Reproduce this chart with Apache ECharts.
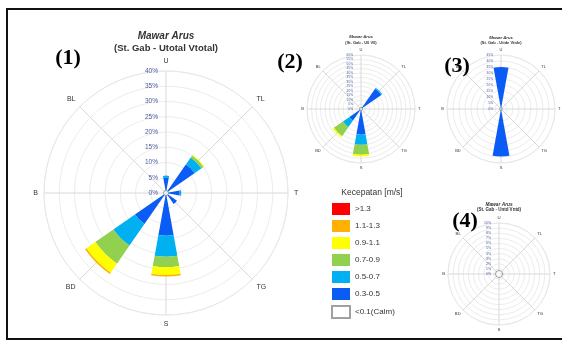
<!DOCTYPE html>
<html>
<head>
<meta charset="utf-8">
<script src="https://cdn.jsdelivr.net/npm/echarts@6/dist/echarts.min.js"></script>
<style>
  html, body { margin: 0; padding: 0; background: #fff; }
  #chart { width: 562px; height: 343px; }
</style>
</head>
<body>
<div id="chart"></div>
<script>
// 16 arah mata angin (kategori batang) dan 8 label arah utama
const directions = ['U', 'UTL', 'TL', 'TTL', 'T', 'TTG', 'TG', 'STG', 'S', 'SBD', 'BD', 'BBD', 'B', 'BBL', 'BL', 'UBL'];
const compassLabels = ['U', 'TL', 'T', 'TG', 'S', 'BD', 'B', 'BL'];
const speedClasses = ['0.3-0.5', '0.5-0.7', '0.7-0.9', '0.9-1.1', '1.1-1.3', '>1.3'];
const calmLabel = '<0.1(Calm)';
const legendTitle = 'Kecepatan [m/s]';
const legendOrder = ['>1.3', '1.1-1.3', '0.9-1.1', '0.7-0.9', '0.5-0.7', '0.3-0.5', calmLabel];

// (1) Utotal Vtotal  (% tiap arah)
const total_03_05 = [5.0, 0, 11.5, 0, 4.5, 0, 4.4, 0, 14.0, 0, 12.4, 0, 0, 0, 0, 0];
const total_05_07 = [0.7, 0, 2.7, 0, 0.5, 0, 0, 0, 6.9, 0, 8.6, 0, 0, 0, 0, 0];
const total_07_09 = [0, 0, 0.8, 0, 0, 0, 0, 0, 3.4, 0, 7.2, 0, 0, 0, 0, 0];
const total_09_11 = [0, 0, 0.3, 0, 0, 0, 0, 0, 2.6, 0, 3.6, 0, 0, 0, 0, 0];
const total_11_13 = [0, 0, 0, 0, 0, 0, 0, 0, 0.5, 0, 0.5, 0, 0, 0, 0, 0];
const total_13_up = [0, 0, 0, 0, 0, 0, 0, 0, 0, 0, 0, 0, 0, 0, 0, 0];

// (2) U0 V0
const u0_03_05 = [0, 0, 27.5, 0, 0, 0, 0, 0, 28.6, 0, 15.6, 0, 0, 0, 0, 0];
const u0_05_07 = [0, 0, 1.2, 0, 0, 0, 0, 0, 11.1, 0, 8.8, 0, 0, 0, 0, 0];
const u0_07_09 = [0, 0, 0, 0, 0, 0, 0, 0, 11.1, 0, 12.3, 0, 0, 0, 0, 0];
const u0_09_11 = [0, 0, 0, 0, 0, 0, 0, 0, 1.9, 0, 1.6, 0, 0, 0, 0, 0];

// (3) Utide Vtide
const tide_03_05 = [35.0, 0, 0, 0, 0, 0, 0, 0, 39.5, 0, 0, 0, 0, 0, 0, 0];

// (4) Untd Vntd
const ntd_03_05 = [0, 0, 0, 0, 0.8, 0, 0, 0, 0, 0, 0, 0, 0, 0, 0, 0];

// radial tick settings per rose
const roseMax = [40, 60, 45, 10];
const roseInterval = [5, 5, 5, 1];

const classColors = {
  '0.3-0.5': '#0a5cf5',
  '0.5-0.7': '#00b0f0',
  '0.7-0.9': '#92d050',
  '0.9-1.1': '#ffff00',
  '1.1-1.3': '#ffb000',
  '>1.3': '#ff0000'
};

const roses = [
  { sub: '(St. Gab - Utotal Vtotal)', center: [166, 193], radius: 122,
    classes: [total_03_05, total_05_07, total_07_09, total_09_11, total_11_13, total_13_up],
    calm: 5, dirFont: 7, tickFont: 6.5, titleFont: [10, 9.5], titleY: [36, 48], dirMargin: 6 },
  { sub: '(St. Gab - U0 V0)', center: [361, 109], radius: 54, classes: [u0_03_05, u0_05_07, u0_07_09, u0_09_11],
    calm: 3, dirFont: 4, tickFont: 3.2, titleFont: [4.2, 4], titleY: [37, 43], dirMargin: 3 },
  { sub: '(St. Gab - Utide Vtide)', center: [501, 109], radius: 54, classes: [tide_03_05],
    calm: 2.5, dirFont: 4, tickFont: 3.2, titleFont: [4.2, 4], titleY: [37.5, 43], dirMargin: 3 },
  { sub: '(St. Gab - Untd Vntd)', center: [499, 274], radius: 51, classes: [ntd_03_05],
    calm: 7, dirFont: 4.3, tickFont: 3.5, titleFont: [4.8, 4.5], titleY: [205, 209.5], dirMargin: 3 }
];

const polar = [], angleAxis = [], radiusAxis = [], series = [], graphic = [];

roses.forEach((r, i) => {
  const frame = i * 2, bars = i * 2 + 1;
  polar.push({ center: r.center, radius: r.radius });
  polar.push({ center: r.center, radius: r.radius });

  angleAxis.push({
    polarIndex: frame, type: 'value', min: 0, max: 360, interval: 45,
    startAngle: 90, clockwise: true,
    axisLine: { lineStyle: { color: '#e8e8e8', width: 1 } },
    axisTick: { show: false },
    splitLine: { lineStyle: { color: '#d9d9d9', width: 1 } },
    axisLabel: {
      formatter: v => (v >= 360 ? '' : compassLabels[Math.round(v / 45)]),
      fontSize: r.dirFont, color: '#333', margin: r.dirMargin, fontFamily: 'Liberation Sans'
    }
  });
  angleAxis.push({
    polarIndex: bars, type: 'category', data: directions,
    startAngle: 90 + 11.25, clockwise: true, show: false
  });
  radiusAxis.push({
    polarIndex: frame, type: 'value', min: 0, max: roseMax[i], interval: roseInterval[i],
    axisLine: { show: false }, axisTick: { show: false },
    splitLine: { lineStyle: { color: '#ececec', width: 1 } },
    axisLabel: { formatter: '{value}%', fontSize: r.tickFont, color: '#4a5a9a', fontFamily: 'Liberation Sans' }
  });
  radiusAxis.push({ polarIndex: bars, type: 'value', min: 0, max: roseMax[i], show: false });

  r.classes.forEach((arr, k) => {
    series.push({
      name: speedClasses[k], type: 'bar', coordinateSystem: 'polar', polarIndex: bars,
      stack: 'rose' + i, data: arr, barCategoryGap: '9%',
      itemStyle: { color: classColors[speedClasses[k]] },
      emphasis: { disabled: true }, silent: true
    });
  });
  series.push({
    name: calmLabel, type: 'scatter', coordinateSystem: 'polar', polarIndex: frame,
    data: [[0, 0]], symbol: 'circle', symbolSize: r.calm, z: 4,
    itemStyle: { color: '#fff', borderColor: '#8a8a8a', borderWidth: 1 },
    silent: true
  });

  graphic.push({ type: 'text', x: r.center[0], y: r.titleY[0],
    style: { text: 'Mawar Arus', font: 'italic bold ' + r.titleFont[0] + 'px "Liberation Sans"', fill: '#333', align: 'center', verticalAlign: 'middle' } });
  graphic.push({ type: 'text', x: r.center[0], y: r.titleY[1],
    style: { text: r.sub, font: 'bold ' + r.titleFont[1] + 'px "Liberation Sans"', fill: '#333', align: 'center', verticalAlign: 'middle' } });
});

// panel numbers, legend heading, frame
[['(1)', 68, 58], ['(2)', 290, 62], ['(3)', 457, 66], ['(4)', 465, 221]].forEach(([t, x, y]) => {
  graphic.push({ type: 'text', x: x, y: y, z: 10,
    style: { text: t, font: 'bold 22px "Liberation Serif"', fill: '#000', align: 'center', verticalAlign: 'middle' } });
});
graphic.push({ type: 'text', x: 372, y: 193,
  style: { text: legendTitle, font: '8.5px "Liberation Sans"', fill: '#333', align: 'center', verticalAlign: 'middle' } });
graphic.push({ type: 'rect', shape: { x: 7, y: 9, width: 600, height: 330 },
  style: { fill: 'none', stroke: '#111', lineWidth: 2 }, silent: true });

const chart = echarts.init(document.getElementById('chart'), null, { renderer: 'canvas' });
chart.setOption({
  backgroundColor: '#fff',
  animation: false,
  polar: polar,
  angleAxis: angleAxis,
  radiusAxis: radiusAxis,
  legend: {
    orient: 'vertical', left: 326, top: 198, padding: 5,
    itemWidth: 18, itemHeight: 12, itemGap: 5,
    icon: 'rect', selectedMode: false,
    data: legendOrder.map(n => ({ name: n, icon: 'rect' })),
    textStyle: { fontSize: 8, color: '#333', fontFamily: 'Liberation Sans' }
  },
  series: series,
  graphic: graphic
});
</script>
</body>
</html>
